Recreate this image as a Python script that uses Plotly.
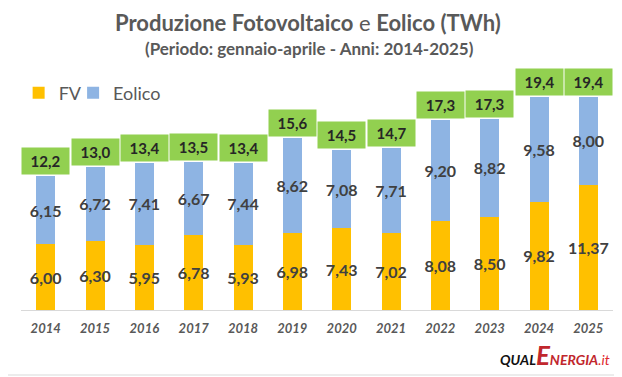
import plotly.graph_objects as go

years = ["2014", "2015", "2016", "2017", "2018", "2019", "2020", "2021", "2022", "2023", "2024", "2025"]
fv = [6.00, 6.30, 5.95, 6.78, 5.93, 6.98, 7.43, 7.02, 8.08, 8.50, 9.82, 11.37]
eolico = [6.15, 6.72, 7.41, 6.67, 7.44, 8.62, 7.08, 7.71, 9.20, 8.82, 9.58, 8.00]
totali = [12.2, 13.0, 13.4, 13.5, 13.4, 15.6, 14.5, 14.7, 17.3, 17.3, 19.4, 19.4]

YELLOW = "#FFC000"
BLUE = "#8EB4E3"
GREEN = "#92D050"
GREY = "#595959"
DARK = "#404040"
FONT = "Lato"

def fmt2(v):
    return f"{v:.2f}".replace(".", ",")

def fmt1(v):
    return f"{v:.1f}".replace(".", ",")

fig = go.Figure()
fig.add_trace(go.Bar(
    x=years, y=fv, name="FV", marker=dict(color=YELLOW, line=dict(width=0)),
    text=[fmt2(v) for v in fv], textposition="inside", insidetextanchor="middle",
    textfont=dict(family=FONT, size=16, color=DARK, weight="bold"),
    textangle=0, legend="legend",
))
fig.add_trace(go.Bar(
    x=years, y=eolico, name="Eolico", marker=dict(color=BLUE, line=dict(width=0)),
    text=[fmt2(v) for v in eolico], textposition="inside", insidetextanchor="middle",
    textfont=dict(family=FONT, size=16, color=DARK, weight="bold"),
    textangle=0, legend="legend2",
))

annotations = []
for i, (a, b, t) in enumerate(zip(fv, eolico, totali)):
    annotations.append(dict(
        x=i, y=a + b, xref="x", yref="y", yanchor="bottom", yshift=1,
        text=fmt1(t), showarrow=False, bgcolor=GREEN, width=45, height=24,
        borderpad=1, font=dict(family=FONT, size=15, color="#262626", weight="bold"),
    ))

annotations.append(dict(
    x=0.485, y=1.305, xref="paper", yref="paper", xanchor="center", yanchor="middle",
    text="<b>Produzione Fotovoltaico</b> e <b>Eolico (TWh)</b>", showarrow=False,
    font=dict(family=FONT, size=22, color=GREY),
))
annotations.append(dict(
    x=0.488, y=1.19, xref="paper", yref="paper", xanchor="center", yanchor="middle",
    text="<b>(Periodo: gennaio-aprile - Anni: 2014-2025)</b>", showarrow=False,
    font=dict(family=FONT, size=17, color=GREY),
))
annotations.append(dict(
    x=(612 - 21) / 592, y=-0.205, xref="paper", yref="paper", xanchor="right", yanchor="middle",
    text=("<b><i>QUAL</i></b><b><i><span style='color:#C1272D;font-size:26px'>E</span>"
          "<span style='color:#C1272D'>NERGIA</span></i></b>"
          "<i><span style='color:#E0282E'>.it</span></i>"),
    showarrow=False, font=dict(family=FONT, size=14, color="#111111"),
))

legend_style = dict(orientation="h", yanchor="middle", y=0.986, xanchor="left",
                    font=dict(family=FONT, size=18, color=GREY), bgcolor="rgba(0,0,0,0)",
                    itemclick=False, itemdoubleclick=False)

fig.update_layout(
    barmode="stack",
    bargap=0.615,
    width=614, height=369,
    margin=dict(l=13, r=9, t=82, b=67),
    paper_bgcolor="white", plot_bgcolor="white",
    showlegend=True,
    legend=dict(legend_style, x=-0.004),
    legend2=dict(legend_style, x=0.088),
    uniformtext=dict(minsize=16, mode="show"),
    xaxis=dict(type="category", range=[-0.5, len(years) - 0.5], showline=True,
               linecolor="#D9D9D9", linewidth=1, ticks="",
               tickfont=dict(family=FONT, size=13, color=GREY, weight="bold", style="italic"),
               ticklabelstandoff=6, showgrid=False, zeroline=False, fixedrange=True),
    yaxis=dict(range=[0, 20], visible=False, showgrid=False, zeroline=False, fixedrange=True),
    annotations=annotations,
    shapes=[dict(type="rect", xref="paper", yref="paper",
                 x0=(2 - 21) / 592, x1=(619 - 21) / 592,
                 y0=(310 - 375) / 220, y1=(310 - 1) / 220,
                 line=dict(color="#D9D9D9", width=1), fillcolor="rgba(0,0,0,0)", layer="below")],
)

fig.write_html("out.html", config={"displayModeBar": False})
